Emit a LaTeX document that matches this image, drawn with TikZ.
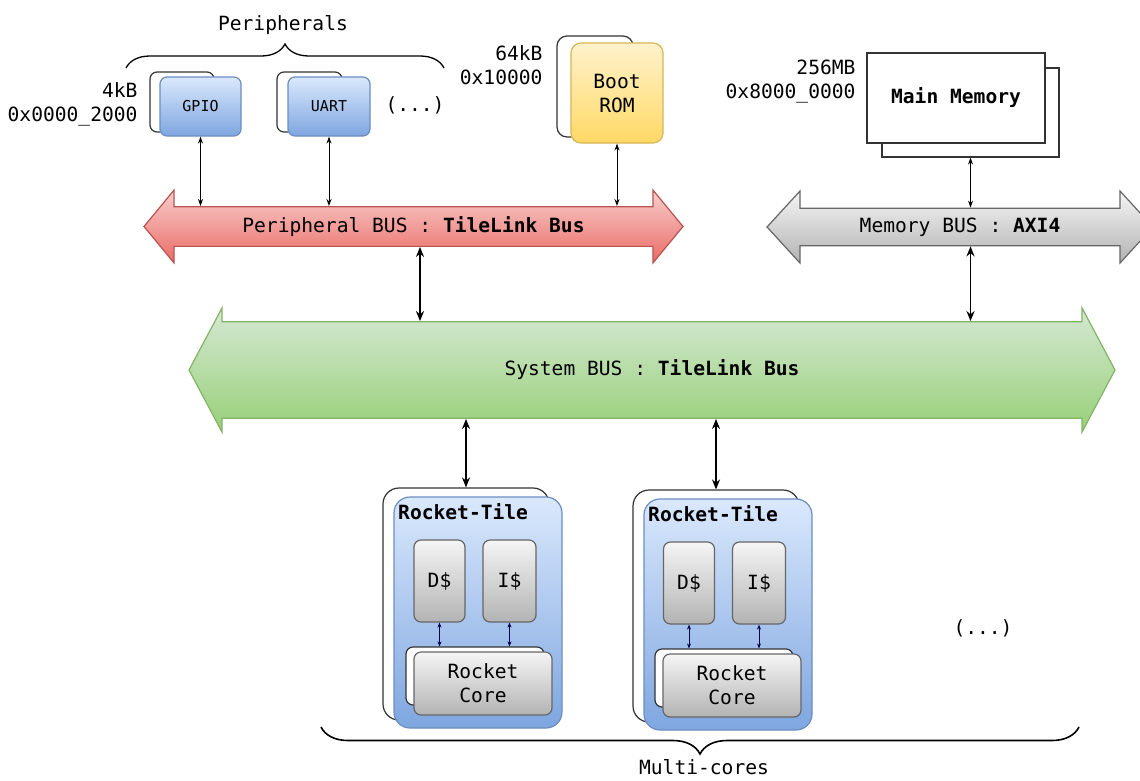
\documentclass[tikz,border=0pt]{standalone}
\usepackage{fontspec}
\setmainfont{DejaVu Sans Mono}
\usetikzlibrary{arrows.meta}
\usetikzlibrary{shapes.arrows}
\usetikzlibrary{decorations.pathreplacing}
\usepackage{xcolor}
\definecolor{bluetop}{HTML}{DAE8FC}
\definecolor{bluebot}{HTML}{7EA6E0}
\definecolor{blueline}{HTML}{6C8EBF}
\definecolor{greytop}{HTML}{F5F5F5}
\definecolor{greybot}{HTML}{B3B3B3}
\definecolor{greyline}{HTML}{666666}
\definecolor{yellowtop}{HTML}{FFF2CC}
\definecolor{yellowbot}{HTML}{FFD966}
\definecolor{yellowline}{HTML}{D6B656}
\definecolor{redtop}{HTML}{F8CECC}
\definecolor{redbot}{HTML}{EA6B66}
\definecolor{redline}{HTML}{B85450}
\definecolor{greentop}{HTML}{D5E8D4}
\definecolor{greenbot}{HTML}{97D077}
\definecolor{greenline}{HTML}{82B366}
\colorlet{mynavy}{blue!30!black}
\tikzset{
  box size/.style 2 args={minimum width=#1pt, minimum height=#2pt},
  box/.style={rounded corners=7pt, line width=1.2pt, inner sep=0, align=center},
  box back/.style={box, draw=black!80, fill=white},
  box blue/.style={box, draw=blueline, top color=bluetop, bottom color=bluebot},
  box grey/.style={box, draw=greyline, top color=greytop, bottom color=greybot},
  box yellow/.style={box, draw=yellowline, top color=yellowtop, bottom color=yellowbot},
  bus/.style={double arrow, inner sep=0, line width=1.2pt},
  addr/.style={align=right, anchor=east},
  connect arrow/.style={{Stealth[length=10pt,width=8pt]}-{Stealth[length=10pt,width=8pt]}, line width=1.6pt},
  connect thin/.style={{Stealth[length=7pt,width=5pt]}-{Stealth[length=7pt,width=5pt]}, line width=1pt},
  connect small/.style={{Stealth[length=5pt,width=4pt]}-{Stealth[length=5pt,width=4pt]}, line width=1pt, mynavy},
  brace line/.style={decorate, line width=1.3pt}
}

\begin{document}
\begin{tikzpicture}[x=1pt, y=-1pt, every node/.style={font=\fontsize{19.6pt}{24pt}\selectfont}]
  \useasboundingbox[fill=white] (0,0) rectangle (1140,780);

  % peripherals
  \node (periph) at (283,25) {Peripherals};
  \draw[brace line, decoration={brace, amplitude=24pt}] (126,68) -- (444,68);
  \node[box back, box size={64}{60}] (gpiob) at (182,102) {};
  \node[box blue, box size={81}{59}, font=\fontsize{15pt}{18pt}\selectfont] (gpio) at (200.5,106.5) {GPIO};
  \node[box back, box size={65}{60}] (uartb) at (309.5,102) {};
  \node[box blue, box size={82}{59}, font=\fontsize{15pt}{18pt}\selectfont] (uart) at (329,106.5) {UART};
  \node (dots1) at (415,105) {(...)};
  \node[addr] (gpioaddr) at (141,104.5) {4kB\\0x0000\_2000};

  % boot rom
  \node[box back, rounded corners=10pt, box size={76}{101}] (bootb) at (595,86.5) {};
  \node[box yellow, rounded corners=10pt, box size={92}{100}] (boot) at (617,93) {Boot\\ROM};
  \node[addr] (bootaddr) at (546,65.5) {64kB\\0x10000};

  % main memory
  \node[box back, rounded corners=0pt, box size={177}{89}] (memb) at (970.5,112.5) {};
  \node[box back, rounded corners=0pt, box size={178}{90}] (mem) at (956,98) {\textbf{Main Memory}};
  \node[addr] (memaddr) at (859,81.5) {256MB\\0x8000\_0000};

  % buses
  \node[bus, draw=redline, top color=redtop, bottom color=redbot,
        minimum height=539pt, minimum width=73pt,
        double arrow head extend=8.9pt, double arrow tip angle=101] (pbus) at (413.5,226.5)
        {Peripheral BUS : \textbf{TileLink Bus}};
  \node[bus, draw=greyline, top color=greytop, bottom color=greybot,
        minimum height=386pt, minimum width=72pt,
        double arrow head extend=9.1pt, double arrow tip angle=95] (mbus) at (960,227)
        {Memory BUS : \textbf{AXI4}};
  \node[bus, draw=greenline, top color=greentop, bottom color=greenbot,
        minimum height=926pt, minimum width=124pt,
        double arrow head extend=3pt, double arrow tip angle=124] (sbus) at (652,370)
        {System BUS : \textbf{TileLink Bus}};

  % rocket tile 1
  \node[box back, rounded corners=16pt, box size={166}{232}] (tile1b) at (466,604) {};
  \node[box blue, rounded corners=16pt, box size={168}{231}] (tile1) at (478,612.5) {};
  \node[anchor=west, inner sep=0] (tile1t) at (398,512) {\textbf{Rocket-Tile}};
  \node[box grey, box size={51}{82}] (d1) at (439.5,581) {D\$};
  \node[box grey, box size={53}{82}] (i1) at (509.5,581) {I\$};
  \node[box back, box size={138}{58}] (core1b) at (475,676) {};
  \node[box grey, box size={138}{63}] (core1) at (483,683.5) {Rocket\\Core};

  % rocket tile 2
  \node[box back, rounded corners=16pt, box size={166}{232}] (tile2b) at (716,606) {};
  \node[box blue, rounded corners=16pt, box size={168}{231}] (tile2) at (728,614.5) {};
  \node[anchor=west, inner sep=0] (tile2t) at (648,514) {\textbf{Rocket-Tile}};
  \node[box grey, box size={51}{82}] (d2) at (689,583) {D\$};
  \node[box grey, box size={53}{82}] (i2) at (759,583) {I\$};
  \node[box back, box size={138}{58}] (core2b) at (724,678) {};
  \node[box grey, box size={138}{63}] (core2) at (732,685.5) {Rocket\\Core};

  \node (dots2) at (983,628) {(...)};
  \draw[brace line, line width=1.6pt, decoration={brace, amplitude=27pt}] (1079,727) -- (321,727);
  \node (multi) at (704,767) {Multi-cores};

  % connections
  \draw[connect thin] (gpio.south) -- (gpio.south |- pbus.north);
  \draw[connect thin] (uart.south) -- (uart.south |- pbus.north);
  \draw[connect thin] (boot.south) -- (boot.south |- pbus.north);
  \draw[connect thin] (memb.south) -- (memb.south |- mbus.north);
  \coordinate (pdown) at (420,248);
  \draw[connect arrow] (pdown |- pbus.south) -- (pdown |- sbus.north);
  \draw[connect arrow] (mbus.south -| memb.south) -- (sbus.north -| memb.south);
  \draw[connect arrow] (sbus.south -| tile1b.north) -- (tile1b.north);
  \draw[connect arrow] (sbus.south -| tile2b.north) -- (tile2b.north);
  \draw[connect small] (d1.south) -- (d1.south |- core1b.north);
  \draw[connect small] (i1.south) -- (i1.south |- core1b.north);
  \draw[connect small] (d2.south) -- (d2.south |- core2b.north);
  \draw[connect small] (i2.south) -- (i2.south |- core2b.north);
\end{tikzpicture}
\end{document}
